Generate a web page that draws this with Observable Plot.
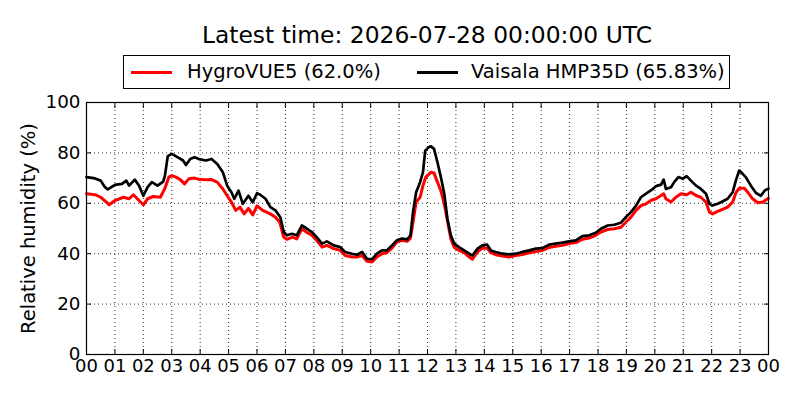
<!DOCTYPE html>
<html>
<head>
<meta charset="utf-8">
<script src="https://cdn.jsdelivr.net/npm/d3@7"></script>
<script src="https://cdn.jsdelivr.net/npm/@observablehq/plot@0.6"></script>
<style>
  body { margin: 0; background: #fff; font-family: "DejaVu Sans", sans-serif; color: #000; }
  #wrap { position: relative; width: 800px; height: 400px; overflow: hidden; background: #fff; }
  #head { position: relative; width: 800px; height: 90px; }
  #title { position: absolute; left: 0; top: 24px; width: 854px; text-align: center; font-size: 23.4px; line-height: 23px; white-space: nowrap; }
  #legend { position: absolute; left: 123px; top: 55px; width: 607px; height: 34px; box-sizing: border-box; border: 1px solid #000; background: #fff; }
  .lg-line { position: absolute; top: 15px; height: 3px; width: 41px; }
  .lg-text { position: absolute; top: 5px; font-size: 19.5px; line-height: 22px; white-space: nowrap; }
  #chart svg { display: block; }
</style>
</head>
<body>
<div id="wrap">
  <div id="head">
    <div id="title"></div>
    <div id="legend"></div>
  </div>
  <div id="chart"></div>
</div>
<script>
// ---- data ----
const titleText = "Latest time: 2026-07-28 00:00:00 UTC";
const yLabel = "Relative humidity (%)";
const seriesNames = ["HygroVUE5 (62.0%)", "Vaisala HMP35D (65.83%)"];
const seriesColors = ["#ff0000", "#000000"];
const xTickHours = [0,1,2,3,4,5,6,7,8,9,10,11,12,13,14,15,16,17,18,19,20,21,22,23,24];
const xTickLabels = ["00","01","02","03","04","05","06","07","08","09","10","11","12","13","14","15","16","17","18","19","20","21","22","23","00"];
const yTicks = [0, 20, 40, 60, 80, 100];

// HygroVUE5 (red): hour of day, relative humidity %
const hygroHours = [0,0.3,0.5,0.7,0.8,1.0,1.3,1.5,1.65,1.85,2.0,2.15,2.35,2.6,2.75,2.9,3.0,3.15,3.3,3.45,3.6,3.8,4.0,4.2,4.4,4.6,4.8,4.95,5.1,5.25,5.4,5.55,5.7,5.85,6.0,6.2,6.47,6.65,6.8,6.94,7.05,7.25,7.4,7.58,7.76,7.93,8.1,8.29,8.46,8.7,8.93,9.1,9.34,9.52,9.7,9.87,10.05,10.22,10.4,10.57,10.75,10.92,11.1,11.28,11.4,11.49,11.6,11.74,11.84,11.94,12.12,12.23,12.35,12.47,12.59,12.7,12.82,12.94,13.11,13.29,13.47,13.58,13.76,13.93,14.1,14.23,14.4,14.64,14.87,15.1,15.34,15.58,15.81,16.04,16.28,16.51,16.75,16.98,17.22,17.45,17.69,17.92,18.1,18.34,18.57,18.81,18.98,19.16,19.34,19.51,19.69,19.86,20.04,20.22,20.31,20.39,20.57,20.74,20.92,21.12,21.27,21.45,21.62,21.8,21.92,22.03,22.21,22.38,22.56,22.74,22.85,22.97,23.15,23.29,23.44,23.62,23.8,24.0];
const hygroRH = [63.8,63.4,62.4,60.5,59.4,61.1,62.4,61.8,63.4,61.1,59.4,61.8,62.7,62.4,65.7,70.4,71,70.4,69.4,67.7,69.7,70,69.4,69.3,69.4,68.4,65.7,63,60.5,57.2,58.5,55.8,58,55.4,59,57.2,55.8,54.5,52.5,46.6,45.7,46.6,45.9,49.9,48.4,47.3,45.3,42.6,43.3,42,41.3,39.3,38.7,38.7,39.3,37,36.7,38.7,40,40.4,42.2,44.6,45.3,44.9,46.2,52.5,60.5,62.4,67,70.4,72.3,72,68.4,65,59.8,53.2,46,42.6,41.3,40.4,38.7,37.8,40.7,42.2,42.2,40.4,39.6,39.1,38.7,39.3,39.7,40.4,40.9,41.3,42.5,42.9,43.3,44,44.4,45.7,46.2,47.3,48.6,49.6,49.9,50.5,52.5,54.5,57.2,59.1,59.8,61.1,61.8,63.1,63.8,61.8,60.5,62.4,63.8,63.4,64.4,63.1,62.4,60.5,56.5,55.8,56.8,57.6,58.5,60.5,64.1,66,66,64.1,61.8,60.2,60.5,62.0];

// Vaisala HMP35D (black)
const vaisalaHours = [0,0.25,0.5,0.65,0.75,1.0,1.25,1.4,1.5,1.7,1.85,2.0,2.15,2.3,2.5,2.7,2.76,2.86,3.0,3.2,3.4,3.5,3.65,3.8,4.0,4.2,4.4,4.6,4.8,4.95,5.1,5.2,5.35,5.5,5.7,5.85,6.0,6.1,6.3,6.47,6.65,6.82,6.94,7.05,7.23,7.4,7.58,7.76,7.93,8.1,8.29,8.46,8.7,8.93,9.1,9.34,9.52,9.7,9.87,10.05,10.22,10.4,10.57,10.75,10.92,11.1,11.28,11.4,11.49,11.6,11.74,11.84,11.92,12.04,12.12,12.23,12.35,12.47,12.59,12.7,12.82,12.94,13.11,13.29,13.47,13.58,13.76,13.93,14.1,14.23,14.4,14.64,14.87,15.1,15.34,15.58,15.81,16.04,16.28,16.51,16.75,16.98,17.22,17.45,17.69,17.92,18.1,18.34,18.57,18.81,18.98,19.16,19.34,19.51,19.69,19.86,20.04,20.22,20.31,20.39,20.57,20.68,20.83,20.98,21.12,21.27,21.45,21.62,21.8,21.92,22.03,22.21,22.38,22.56,22.74,22.85,22.97,23.09,23.2,23.38,23.56,23.73,23.87,24.0];
const vaisalaRH = [70.4,70,69,66.4,65.5,67.3,67.7,69,67,69.4,67,63,66.4,68.4,67,68.6,71,78.7,79.6,78.3,77,75.2,77.6,78.3,77.4,77,77.6,75.6,72.3,67,64.4,61.8,65,59.8,63,60.4,64,63.5,61.8,58.5,57.2,54.5,48.6,47.3,47.9,47.3,51.2,49.9,48.6,46.6,44,44.9,43.3,42.6,40.7,40,39.6,40.7,38,37.8,40,41.3,41.3,43.3,45.3,46,45.7,47.3,56.5,64.4,68.4,72.3,80.9,82.2,82.6,81.6,76.3,70.4,63.8,53.9,47.3,44,42.6,41.3,40,39.3,42,43.3,43.6,41.3,40.7,40,39.7,40,40.7,41.3,42,42.2,43.6,44,44.4,44.9,45.3,47,47.3,48.3,49.9,51.2,51.5,52.3,54.5,56.5,59.1,62.4,63.8,65.1,66.8,67.4,69.4,65.7,66.4,68.4,70.4,69.7,70.8,69,67,65.7,63.8,59.8,59.1,59.8,60.7,61.8,64.4,69,73,71.7,70.4,67,64.1,63,65.1,65.83];

// ---- build tables ----
const hygro = hygroHours.map((h, i) => ({hour: h, rh: hygroRH[i]}));
const vaisala = vaisalaHours.map((h, i) => ({hour: h, rh: vaisalaRH[i]}));
const tickLabel = new Map(xTickHours.map((h, i) => [h, xTickLabels[i]]));

// ---- header: title & legend ----
document.getElementById("title").textContent = titleText;
const legend = document.getElementById("legend");
const lgPos = [{line: 7, text: 63}, {line: 293, text: 347}];
seriesNames.forEach((name, i) => {
  const ln = document.createElement("div");
  ln.className = "lg-line";
  ln.style.left = lgPos[i].line + "px";
  ln.style.background = seriesColors[i];
  legend.appendChild(ln);
  const tx = document.createElement("div");
  tx.className = "lg-text";
  tx.style.left = lgPos[i].text + "px";
  tx.textContent = name;
  legend.appendChild(tx);
});

// ---- chart ----
const gridStyle = {stroke: "#000", strokeOpacity: 1, strokeWidth: 0.8, strokeDasharray: "1,3"};
const chart = Plot.plot({
  width: 800,
  height: 310,
  marginTop: 12,
  marginBottom: 46,
  marginLeft: 86,
  marginRight: 32,
  style: {fontFamily: "DejaVu Sans, sans-serif", fontSize: "18px", background: "#fff", color: "#000", overflow: "visible"},
  x: {domain: [0, 24]},
  y: {domain: [0, 100]},
  marks: [
    Plot.gridX(xTickHours.slice(1, -1), gridStyle),
    Plot.gridY(yTicks.slice(1, -1), gridStyle),
    Plot.line(hygro, {x: "hour", y: "rh", stroke: seriesColors[0], strokeWidth: 3}),
    Plot.line(vaisala, {x: "hour", y: "rh", stroke: seriesColors[1], strokeWidth: 2.7}),
    Plot.frame({stroke: "#000", strokeWidth: 1.2}),
    Plot.axisX(xTickHours, {anchor: "bottom", tickSize: 0, tickPadding: 5, tickFormat: h => tickLabel.get(h), label: null, fontSize: 18}),
    Plot.axisX(xTickHours, {anchor: "bottom", tickSize: -5, tickFormat: () => "", label: null}),
    Plot.axisX(xTickHours, {anchor: "top", tickSize: -5, tickFormat: () => "", label: null}),
    Plot.axisY(yTicks, {anchor: "left", tickSize: 0, tickPadding: 6, tickFormat: d => String(d), label: null, fontSize: 18.3}),
    Plot.axisY(yTicks, {anchor: "left", tickSize: -5, tickFormat: () => "", label: null}),
    Plot.axisY(yTicks, {anchor: "right", tickSize: -5, tickFormat: () => "", label: null}),
    Plot.text([yLabel], {text: d => d, frameAnchor: "left", textAnchor: "middle", lineAnchor: "middle", rotate: -90, dx: -58, fontSize: 19.5, fill: "#000"})
  ]
});
document.getElementById("chart").appendChild(chart);
</script>
</body>
</html>
